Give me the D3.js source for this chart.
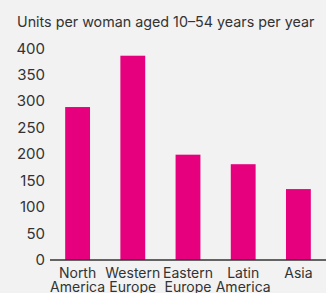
<!DOCTYPE html>
<html><head><meta charset="utf-8">
<script src="https://cdn.jsdelivr.net/npm/d3@7"></script>
<style>
html,body{margin:0;padding:0;background:#f2f2f2;}
svg{display:block;font-family:Inter,"Noto Sans",sans-serif;}
</style></head><body>
<svg id="c" width="326" height="293"></svg>
<script>
const categories = [["North","America"],["Western","Europe"],["Eastern","Europe"],["Latin","America"],["Asia"]];
const values = [289, 386, 199, 181, 134];
const yTicks = [0,50,100,150,200,250,300,350,400];
const title = "Units per woman aged 10–54 years per year";

const svg = d3.select("#c");
const W = 326, H = 293;
const x = d3.scaleBand().domain(d3.range(categories.length)).range([50, 326]).paddingInner(0.55).paddingOuter(0.275);
const y = d3.scaleLinear().domain([0, 400]).range([260, 48.3]);

svg.append("rect").attr("width", W).attr("height", H).attr("fill", "#f2f2f2");

svg.append("text").attr("x", 17).attr("y", 26.5).attr("font-size", 14.3).attr("fill", "#333").text(title);

svg.append("g").selectAll("text").data(yTicks).join("text")
  .attr("x", 45).attr("y", d => y(d)).attr("dy", "0.35em").attr("text-anchor", "end")
  .attr("font-size", 15).attr("fill", "#333").text(d => d);

svg.append("g").selectAll("rect").data(values).join("rect")
  .attr("x", (d,i) => x(i)).attr("width", x.bandwidth())
  .attr("y", d => y(d)).attr("height", d => y(0) - y(d)).attr("fill", "#e6007e");

svg.append("line").attr("x1", 50).attr("x2", 326).attr("y1", y(0)).attr("y2", y(0))
  .attr("stroke", "#333").attr("stroke-width", 1.5);

const lab = svg.append("g").selectAll("text").data(categories).join("text")
  .attr("x", (d,i) => x(i) + x.bandwidth()/2).attr("y", 278).attr("text-anchor", "middle")
  .attr("font-size", 14).attr("fill", "#333");
lab.selectAll("tspan").data(d => d).join("tspan")
  .attr("x", function(){ return this.parentNode.getAttribute("x"); })
  .attr("dy", (d,i) => i === 0 ? 0 : 14).text(d => d);
</script>
</body></html>
